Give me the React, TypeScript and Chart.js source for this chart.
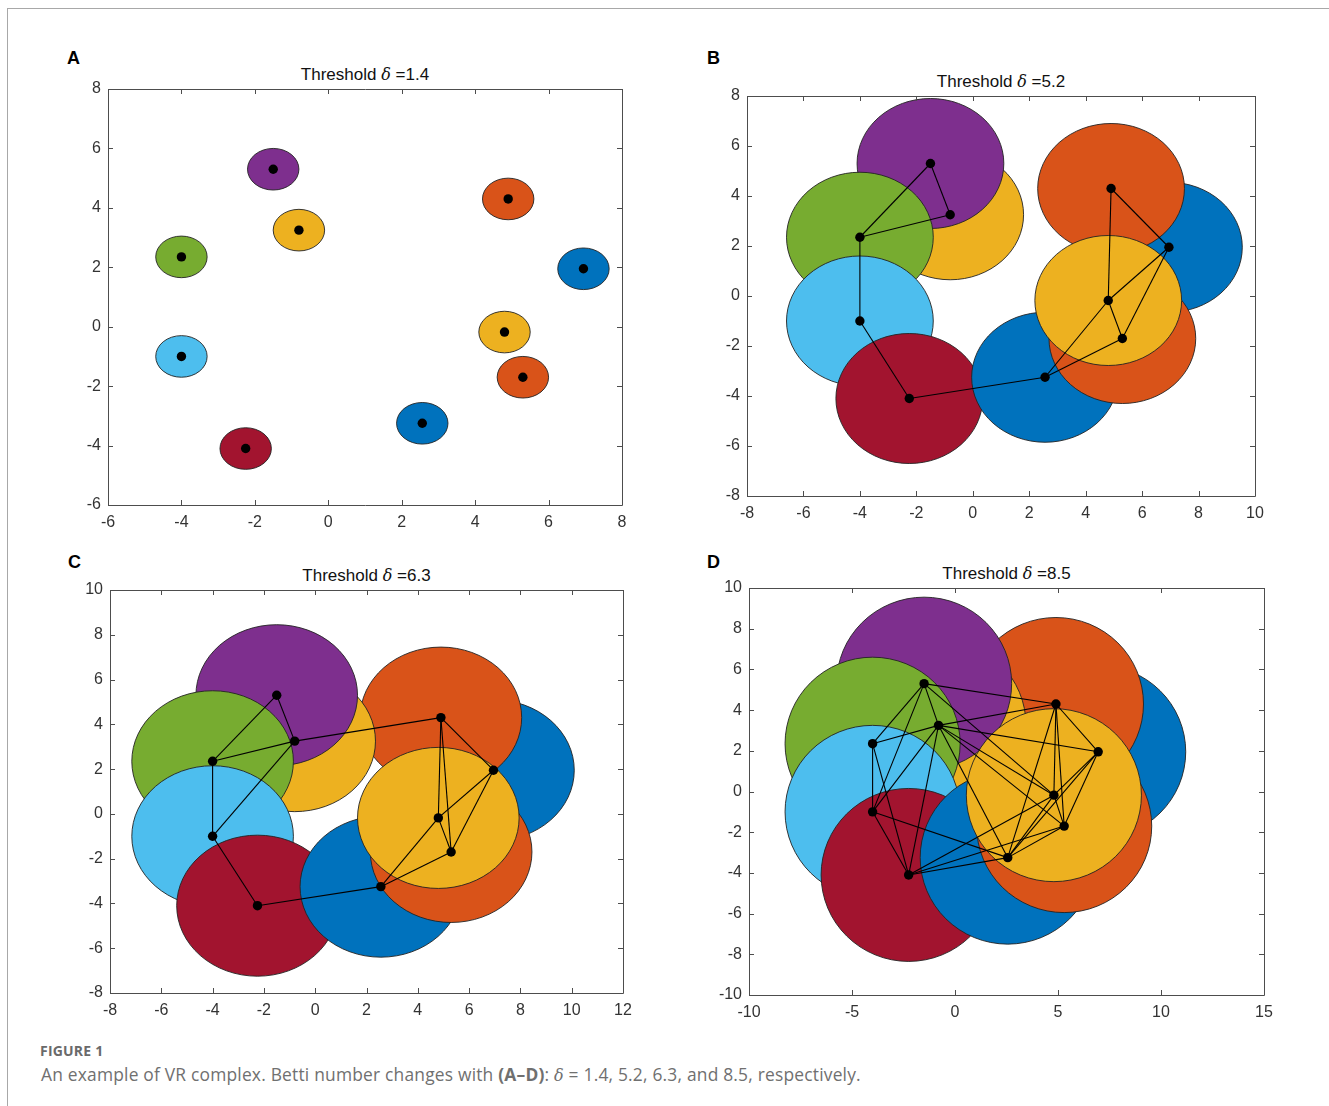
import React, { useEffect, useRef } from "react";
import { Chart, registerables } from "chart.js";

Chart.register(...registerables);

// ---------- data ----------
const pointX = [6.95, 4.9, -0.8, -1.5, -4.0, -4.0, -2.25, 2.56, 5.3, 4.8];
const pointY = [1.95, 4.3, 3.25, 5.3, 2.35, -1.0, -4.1, -3.25, -1.7, -0.18];
const pointColors = [
  "#0072BD", "#D95319", "#EDB120", "#7E2F8E", "#77AC30",
  "#4DBEEE", "#A2142F", "#0072BD", "#D95319", "#EDB120",
];
const panelLabels = ["A", "B", "C", "D"];
const thresholds = [1.4, 5.2, 6.3, 8.5];

const edgesA: number[][] = [];
const edgesB: number[][] = [
  [0, 1], [0, 8], [0, 9], [1, 9], [2, 3], [2, 4], [3, 4],
  [4, 5], [5, 6], [6, 7], [7, 8], [7, 9], [8, 9],
];
const edgesC: number[][] = [...edgesB, [1, 2], [1, 8], [2, 5]];
const edgesD: number[][] = [
  ...edgesC,
  [0, 2], [0, 7], [1, 3], [1, 7], [2, 6], [2, 7], [2, 8], [2, 9],
  [3, 5], [3, 9], [4, 6], [5, 7], [6, 8], [6, 9],
];
const panelEdges = [edgesA, edgesB, edgesC, edgesD];

// axis [min, max, step]
const xAxes = [[-6, 8, 2], [-8, 10, 2], [-8, 12, 2], [-10, 15, 5]];
const yAxes = [[-6, 8, 2], [-8, 8, 2], [-8, 10, 2], [-10, 10, 2]];

// ---------- layout ----------
const plotBoxes = [
  { L: 108, T: 89, R: 622, B: 505, lx: 67, ly: 58 },
  { L: 747, T: 96, R: 1255, B: 496, lx: 707, ly: 58 },
  { L: 110, T: 590, R: 623, B: 993, lx: 68, ly: 562 },
  { L: 749, T: 588, R: 1264, B: 995, lx: 707, ly: 562 },
];
const PAD_L = 60;
const PAD_T = 20;
const PAD_R = 20;
const PAD_B = 36;

const TICK_FONT = "'Liberation Sans', Arial, Helvetica, sans-serif";
const CAPTION_FONT = "'Open Sans', Lato, sans-serif";

const circlesPlugin = {
  id: "vrCircles",
  beforeDatasetsDraw(chart: any, _args: any, opts: any) {
    const { ctx, chartArea, scales } = chart;
    const xs = scales.x;
    const ys = scales.y;
    const r = opts.radius;
    ctx.save();
    ctx.beginPath();
    ctx.rect(chartArea.left, chartArea.top, chartArea.right - chartArea.left, chartArea.bottom - chartArea.top);
    ctx.clip();
    for (let i = 0; i < pointX.length; i++) {
      const cx = xs.getPixelForValue(pointX[i]);
      const cy = ys.getPixelForValue(pointY[i]);
      const rx = Math.abs(xs.getPixelForValue(pointX[i] + r) - cx);
      const ry = Math.abs(ys.getPixelForValue(pointY[i] + r) - cy);
      ctx.beginPath();
      ctx.ellipse(cx, cy, rx, ry, 0, 0, Math.PI * 2);
      ctx.fillStyle = pointColors[i];
      ctx.fill();
      ctx.lineWidth = 0.9;
      ctx.strokeStyle = "#222222";
      ctx.stroke();
    }
    ctx.restore();
  },
};

const boxPlugin = {
  id: "matlabBox",
  afterDraw(chart: any) {
    const { ctx, chartArea, scales } = chart;
    const { left, right, top, bottom } = chartArea;
    const tl = 5;
    ctx.save();
    ctx.strokeStyle = "#4d4d4d";
    ctx.lineWidth = 1;
    ctx.beginPath();
    ctx.rect(Math.round(left) + 0.5, Math.round(top) + 0.5, Math.round(right - left), Math.round(bottom - top));
    ctx.stroke();
    ctx.beginPath();
    for (const t of scales.x.ticks) {
      const px = Math.round(scales.x.getPixelForValue(t.value)) + 0.5;
      ctx.moveTo(px, bottom);
      ctx.lineTo(px, bottom - tl);
      ctx.moveTo(px, top);
      ctx.lineTo(px, top + tl);
    }
    for (const t of scales.y.ticks) {
      const py = Math.round(scales.y.getPixelForValue(t.value)) + 0.5;
      ctx.moveTo(left, py);
      ctx.lineTo(left + tl, py);
      ctx.moveTo(right, py);
      ctx.lineTo(right - tl, py);
    }
    ctx.stroke();
    ctx.restore();
  },
};

function Panel({ idx }: { idx: number }) {
  const ref = useRef<HTMLCanvasElement | null>(null);
  const box = plotBoxes[idx];
  const w = box.R - box.L + PAD_L + PAD_R;
  const h = box.B - box.T + PAD_T + PAD_B;

  useEffect(() => {
    if (!ref.current) return;
    const edges = panelEdges[idx];
    const edgeSets = edges.map(([a, b]) => ({
      data: [
        { x: pointX[a], y: pointY[a] },
        { x: pointX[b], y: pointY[b] },
      ],
      showLine: true,
      borderColor: "#000000",
      borderWidth: 1.1,
      pointRadius: 0,
      pointHoverRadius: 0,
    }));
    const pointsSet = {
      data: pointX.map((x, i) => ({ x, y: pointY[i] })),
      showLine: false,
      pointRadius: 4.7,
      pointHoverRadius: 4.7,
      pointBackgroundColor: "#000000",
      pointBorderWidth: 0,
      borderWidth: 0,
    };
    const [xmin, xmax, xstep] = xAxes[idx];
    const [ymin, ymax, ystep] = yAxes[idx];
    const tickOpts = (pad: number) => ({
      color: "#333333",
      font: { family: TICK_FONT, size: 16 },
      padding: pad,
      autoSkip: false,
      maxRotation: 0,
      minRotation: 0,
      includeBounds: true,
    });
    const chart = new Chart(ref.current, {
      type: "scatter",
      data: { datasets: [pointsSet, ...edgeSets] as any },
      options: {
        animation: false,
        responsive: false,
        maintainAspectRatio: false,
        devicePixelRatio: 1,
        events: [],
        layout: { padding: { left: 0, top: PAD_T, right: PAD_R, bottom: 0 } },
        plugins: {
          legend: { display: false },
          tooltip: { enabled: false },
          title: { display: false },
          vrCircles: { radius: thresholds[idx] / 2 },
        } as any,
        scales: {
          x: {
            type: "linear",
            min: xmin,
            max: xmax,
            grid: { display: false, drawTicks: false },
            border: { display: false },
            ticks: { ...tickOpts(8), stepSize: xstep },
            afterFit: (s: any) => { s.height = PAD_B; },
          },
          y: {
            type: "linear",
            min: ymin,
            max: ymax,
            grid: { display: false, drawTicks: false },
            border: { display: false },
            ticks: { ...tickOpts(7), stepSize: ystep },
            afterFit: (s: any) => { s.width = PAD_L; },
          },
        },
      },
      plugins: [circlesPlugin, boxPlugin],
    });
    return () => chart.destroy();
  }, [idx]);

  return (
    <>
      <div
        style={{
          position: "absolute",
          left: box.lx,
          top: box.ly - 11,
          height: 22,
          lineHeight: "22px",
          fontFamily: TICK_FONT,
          fontWeight: 700,
          fontSize: 18,
          color: "#000",
        }}
      >
        {panelLabels[idx]}
      </div>
      <div
        style={{
          position: "absolute",
          left: box.L,
          width: box.R - box.L,
          top: box.T - 25,
          height: 22,
          lineHeight: "22px",
          textAlign: "center",
          fontFamily: TICK_FONT,
          fontSize: 17,
          color: "#111",
          whiteSpace: "nowrap",
        }}
      >
        Threshold{" "}
        <span style={{ fontFamily: "'DejaVu Serif', 'Liberation Serif', serif", fontStyle: "italic", fontSize: 16 }}>δ</span>{" "}
        ={thresholds[idx]}
      </div>
      <canvas
        ref={ref}
        width={w}
        height={h}
        style={{ position: "absolute", left: box.L - PAD_L, top: box.T - PAD_T, width: w, height: h }}
      />
    </>
  );
}

export default function App() {
  return (
    <div
      style={{
        position: "absolute",
        left: 0,
        top: 0,
        width: 1329,
        height: 1106,
        background: "#ffffff",
        overflow: "hidden",
      }}
    >
      <div
        style={{
          position: "absolute",
          left: 7,
          top: 8,
          width: 1340,
          height: 1120,
          borderTop: "1px solid #a8a8a8",
          borderLeft: "1px solid #a8a8a8",
        }}
      />
      {[0, 1, 2, 3].map((i) => (
        <Panel key={i} idx={i} />
      ))}
      <div
        style={{
          position: "absolute",
          left: 40,
          top: 1041,
          fontFamily: CAPTION_FONT,
          fontWeight: 700,
          fontSize: 14,
          color: "#6a6a6a",
          letterSpacing: 0.2,
          whiteSpace: "nowrap",
        }}
      >
        FIGURE 1
      </div>
      <div
        style={{
          position: "absolute",
          left: 41,
          top: 1062,
          fontFamily: CAPTION_FONT,
          fontSize: 17.4,
          letterSpacing: 0.2,
          color: "#707070",
          whiteSpace: "nowrap",
        }}
      >
        An example of VR complex. Betti number changes with <b>(A–D)</b>:{" "}
        <span style={{ fontFamily: "'DejaVu Serif', serif", fontStyle: "italic", fontSize: 16 }}>δ</span>
        {" = 1.4, 5.2, 6.3, and 8.5, respectively."}
      </div>
    </div>
  );
}
